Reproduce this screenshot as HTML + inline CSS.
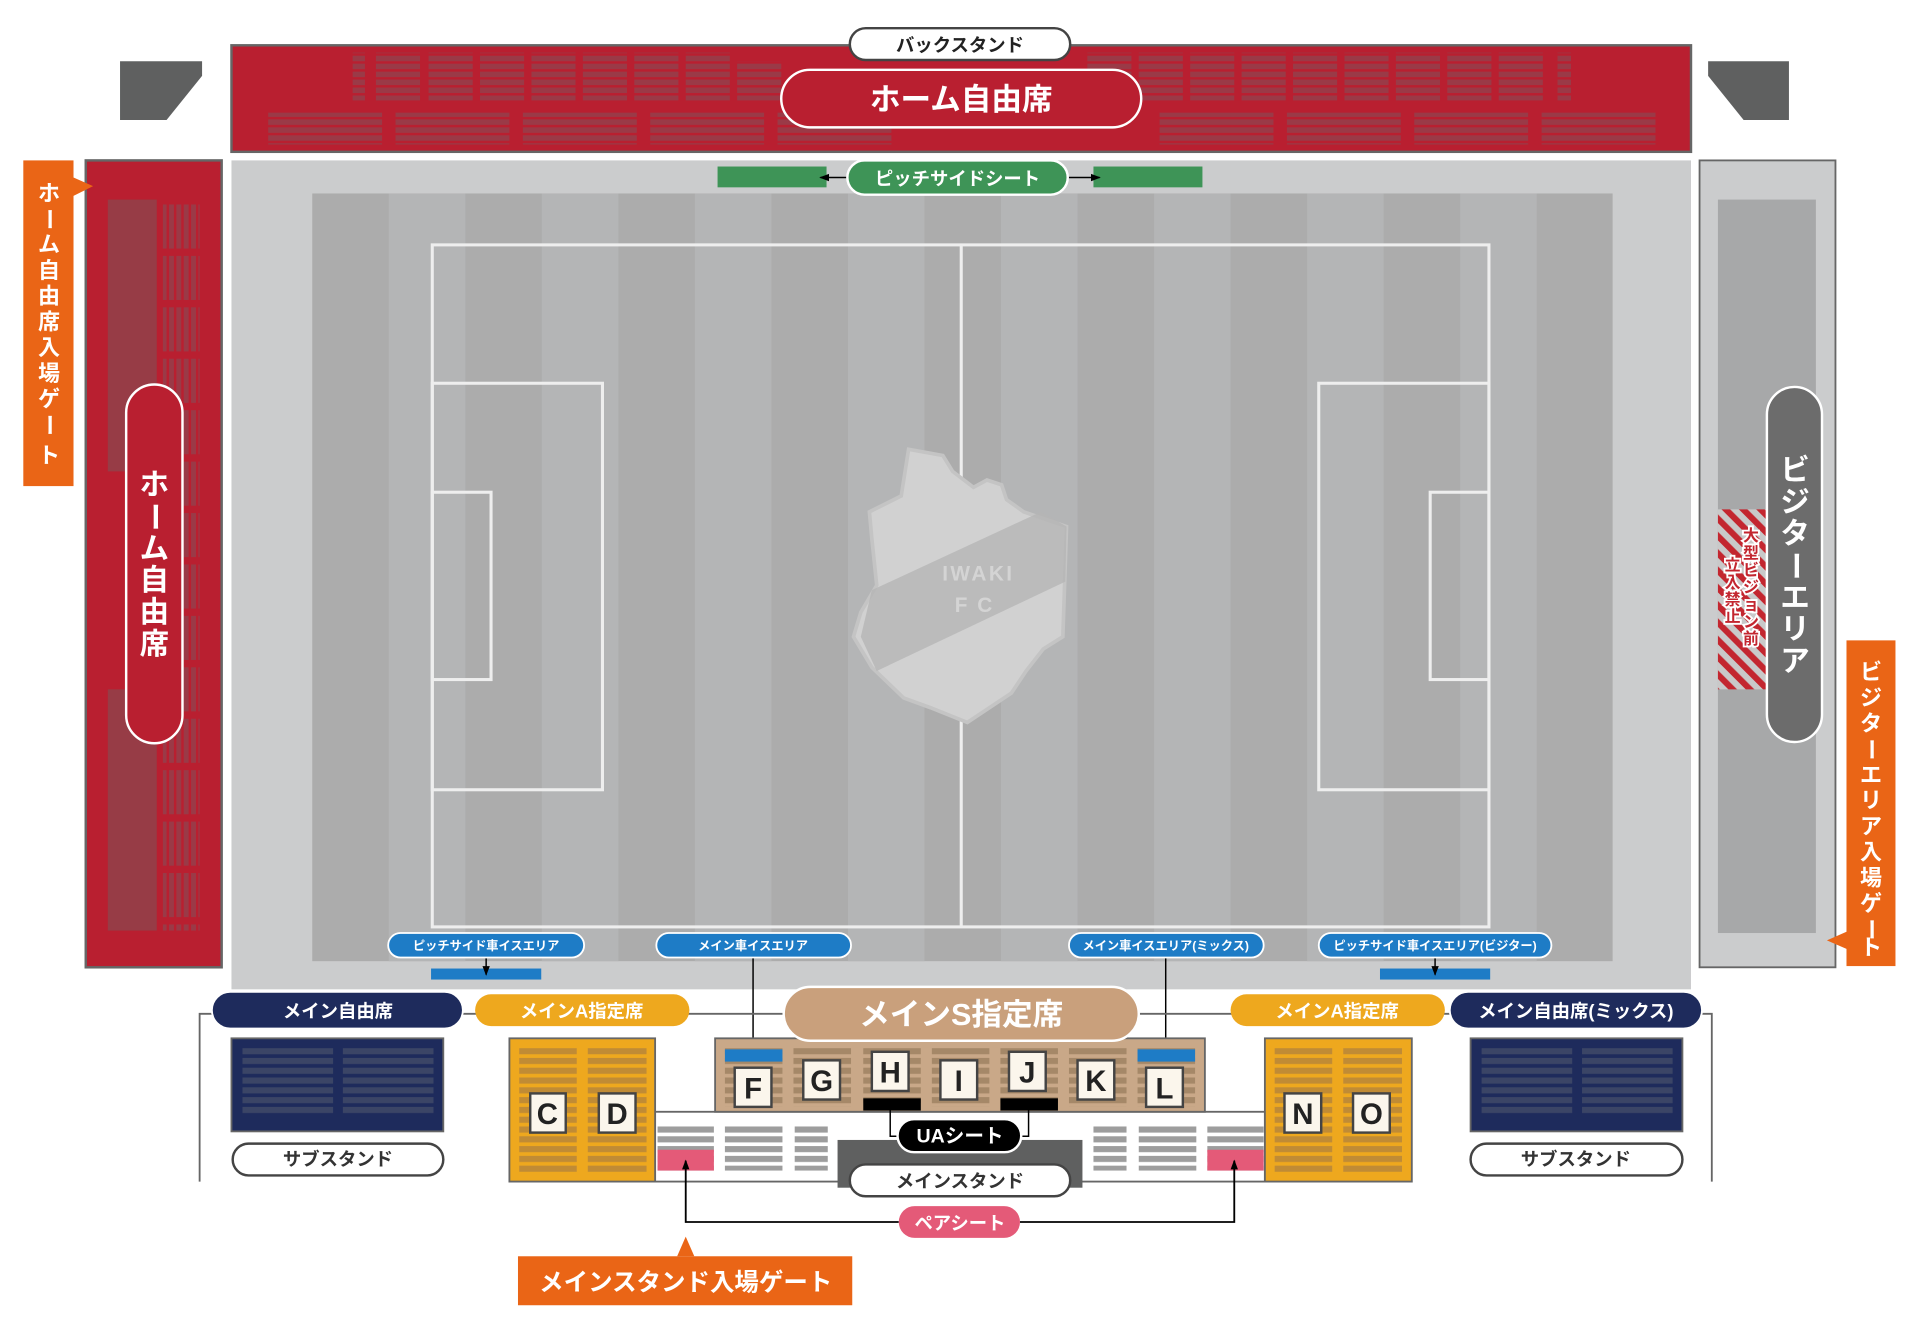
<!DOCTYPE html>
<html><head><meta charset="utf-8"><style>
html,body{margin:0;padding:0;background:#fff;}
svg{display:block;}
text{font-family:"Liberation Sans","Noto Sans CJK JP",sans-serif;font-weight:bold;}
</style></head><body>
<svg width="1920" height="1335" viewBox="0 0 1568 1090.3" xmlns="http://www.w3.org/2000/svg">
<defs>
<pattern id="hr" width="10" height="6.5" patternUnits="userSpaceOnUse"><rect width="10" height="4.5" fill="#9a3a47"/></pattern>
<pattern id="vr" width="6" height="10" patternUnits="userSpaceOnUse"><rect width="4" height="10" fill="#9a3a47"/></pattern>
<pattern id="nv" width="10" height="8" patternUnits="userSpaceOnUse"><rect width="10" height="5" fill="#3b4566"/></pattern>
<pattern id="yl" width="10" height="8" patternUnits="userSpaceOnUse"><rect width="10" height="5" fill="#c08b35"/></pattern>
<pattern id="tn" width="10" height="8" patternUnits="userSpaceOnUse"><rect width="10" height="5" fill="#a58868"/></pattern>
<pattern id="gr" width="10" height="8" patternUnits="userSpaceOnUse"><rect width="10" height="5" fill="#9d9d9d"/></pattern>
<pattern id="hatch" width="10" height="10" patternUnits="userSpaceOnUse" patternTransform="rotate(-45)"><rect width="10" height="10" fill="#c9c9c9"/><rect width="5" height="10" fill="#c3262f"/></pattern>
<marker id="ar" markerWidth="8" markerHeight="8" refX="7" refY="4" orient="auto" markerUnits="userSpaceOnUse"><path d="M0,1 L8,4 L0,7z" fill="#000"/></marker>
</defs>

<path d="M98,50 H165 V62 L136,98 H98z" fill="#5f6060"/>
<path d="M1461,50 H1395 V62 L1424,98 H1461z" fill="#5f6060"/>

<rect x="189" y="37" width="1192" height="87" fill="#b91f30" stroke="#666" stroke-width="2"/>
<rect x="288" y="43" width="10" height="39" fill="url(#hr)"/>
<g fill="url(#hr)">
<rect x="307" y="43" width="36" height="39"/><rect x="350" y="43" width="36" height="39"/><rect x="392" y="43" width="36" height="39"/><rect x="434" y="43" width="36" height="39"/><rect x="476" y="43" width="36" height="39"/><rect x="518" y="43" width="36" height="39"/><rect x="560" y="43" width="36" height="39"/><rect x="602" y="50" width="36" height="32"/>
<rect x="888" y="43" width="36" height="39"/><rect x="930" y="43" width="36" height="39"/><rect x="972" y="43" width="36" height="39"/><rect x="1014" y="43" width="36" height="39"/><rect x="1056" y="43" width="36" height="39"/><rect x="1098" y="43" width="36" height="39"/><rect x="1140" y="43" width="36" height="39"/><rect x="1182" y="43" width="36" height="39"/><rect x="1224" y="43" width="36" height="39"/><rect x="1272" y="43" width="11" height="39"/>
<rect x="219" y="92" width="93" height="26"/><rect x="323" y="92" width="93" height="26"/><rect x="427" y="92" width="93" height="26"/><rect x="531" y="92" width="93" height="26"/><rect x="635" y="92" width="93" height="26"/>
<rect x="947" y="92" width="93" height="26"/><rect x="1051" y="92" width="93" height="26"/><rect x="1155" y="92" width="93" height="26"/><rect x="1259" y="92" width="93" height="26"/>
</g>
<rect x="694" y="23" width="180" height="26" rx="13" fill="#fff" stroke="#444" stroke-width="2"/>
<text x="784" y="42" font-size="15" text-anchor="middle" fill="#222">バックスタンド</text>
<rect x="638" y="57" width="294" height="47" rx="23.5" fill="#b91f30" stroke="#fff" stroke-width="2"/>
<text x="785" y="90" font-size="25" text-anchor="middle" fill="#fff">ホーム自由席</text>

<rect x="189" y="131" width="1192" height="677" fill="#cbcccd"/>
<rect x="255" y="158" width="1062" height="627" fill="#acacac"/>
<g fill="#b4b5b6">
<rect x="317.5" y="158" width="62.5" height="627"/><rect x="442.5" y="158" width="62.5" height="627"/><rect x="567.5" y="158" width="62.5" height="627"/><rect x="692.5" y="158" width="62.5" height="627"/><rect x="817.5" y="158" width="62.5" height="627"/><rect x="942.5" y="158" width="62.5" height="627"/><rect x="1067.5" y="158" width="62.5" height="627"/><rect x="1192.5" y="158" width="62.5" height="627"/>
</g>
<g fill="none" stroke="#eee" stroke-width="2.5">
<rect x="353" y="200" width="863" height="557"/>
<line x1="785" y1="200" x2="785" y2="757"/>
<rect x="353" y="313" width="139" height="332"/>
<rect x="353" y="402" width="48" height="153"/>
<rect x="1077" y="313" width="139" height="332"/>
<rect x="1168" y="402" width="48" height="153"/>
</g>
<path d="M742,367 L770,372 L778,385 L795,398 L806,392 L818,396 L822,408 L836,418 L871,430 L868,520 L852,530 L838,548 L826,566 L790,590 L760,578 L738,570 L712,545 L697,520 L703,500 L716,478 L712,440 L710,418 L736,405z" fill="#d1d1d1" stroke="#c4c4c4" stroke-width="3"/>
<path d="M712,482 L850,418 L871,430 L870,475 L716,548 L703,520z" fill="#b5b5b5" opacity="0.8"/>
<text x="799" y="474" font-size="17" text-anchor="middle" fill="#d4d4d4" font-family="Liberation Serif,serif" letter-spacing="2">IWAKI</text>
<text x="799" y="500" font-size="17" text-anchor="middle" fill="#d4d4d4" font-family="Liberation Serif,serif" letter-spacing="8">FC</text>

<rect x="586" y="136" width="89" height="17" fill="#3e9457"/>
<rect x="893" y="136" width="89" height="17" fill="#3e9457"/>
<line x1="692" y1="145" x2="670" y2="145" stroke="#000" stroke-width="1.2" marker-end="url(#ar)"/>
<line x1="872" y1="145" x2="898" y2="145" stroke="#000" stroke-width="1.2" marker-end="url(#ar)"/>
<rect x="692" y="131" width="180" height="28" rx="14" fill="#3e9457" stroke="#fff" stroke-width="2"/>
<text x="782" y="151" font-size="15" text-anchor="middle" fill="#fff">ピッチサイドシート</text>

<rect x="70" y="131" width="111" height="659" fill="#b91f30" stroke="#666" stroke-width="2"/>
<rect x="88" y="163" width="40" height="222" fill="#973c46"/>
<rect x="88" y="563" width="40" height="197" fill="#973c46"/>
<g fill="url(#vr)">
<rect x="133" y="167" width="30" height="36"/><rect x="133" y="209" width="30" height="36"/><rect x="133" y="251" width="30" height="36"/><rect x="133" y="293" width="30" height="36"/><rect x="133" y="335" width="30" height="36"/><rect x="133" y="377" width="30" height="36"/><rect x="133" y="419" width="30" height="36"/><rect x="133" y="461" width="30" height="36"/><rect x="133" y="503" width="30" height="36"/><rect x="133" y="545" width="30" height="36"/><rect x="133" y="587" width="30" height="36"/><rect x="133" y="629" width="30" height="36"/><rect x="133" y="671" width="30" height="36"/><rect x="133" y="713" width="30" height="36"/><rect x="133" y="755" width="30" height="5"/>
</g>
<rect x="103" y="314" width="46" height="293" rx="23" fill="#b91f30" stroke="#fff" stroke-width="2"/>
<g font-size="24" fill="#fff" text-anchor="middle">
<text x="126" y="404">ホ</text><text x="126" y="430" transform="rotate(90 126 422)">ー</text><text x="126" y="456">ム</text><text x="126" y="482">自</text><text x="126" y="508">由</text><text x="126" y="534">席</text>
</g>
<rect x="19" y="131" width="41" height="266" fill="#ea6516"/>
<path d="M60,145 L76,152 L60,160z" fill="#ea6516"/>
<g font-size="18" fill="#fff" text-anchor="middle">
<text x="40" y="164">ホ</text><text x="40" y="185" transform="rotate(90 40 179)">ー</text><text x="40" y="206">ム</text><text x="40" y="227">自</text><text x="40" y="248">由</text><text x="40" y="269">席</text><text x="40" y="290">入</text><text x="40" y="311">場</text><text x="40" y="332">ゲ</text><text x="40" y="353" transform="rotate(90 40 347)">ー</text><text x="40" y="378">ト</text>
</g>

<rect x="1388" y="131" width="111" height="659" fill="#cbcccd" stroke="#666" stroke-width="1.5"/>
<rect x="1403" y="163" width="80" height="599" fill="#a7a8a9"/>
<rect x="1403" y="416" width="40" height="147" fill="url(#hatch)"/>
<g font-size="13" fill="#c3262f" text-anchor="middle" stroke="#fff" stroke-width="3" paint-order="stroke">
<text x="1430" y="442">大</text><text x="1430" y="456">型</text><text x="1430" y="470">ビ</text><text x="1430" y="484">ジ</text><text x="1430" y="498">ョ</text><text x="1430" y="512">ン</text><text x="1430" y="526">前</text>
<text x="1415" y="466">立</text><text x="1415" y="480">入</text><text x="1415" y="494">禁</text><text x="1415" y="508">止</text>
</g>
<rect x="1443" y="316" width="45" height="290" rx="22.5" fill="#6c6c6c" stroke="#fff" stroke-width="2"/>
<g font-size="24" fill="#fff" text-anchor="middle">
<text x="1466" y="392">ビ</text><text x="1466" y="418">ジ</text><text x="1466" y="444">タ</text><text x="1466" y="470" transform="rotate(90 1466 462)">ー</text><text x="1466" y="496">エ</text><text x="1466" y="522">リ</text><text x="1466" y="548">ア</text>
</g>
<rect x="1508" y="523" width="40" height="266" fill="#ea6516"/>
<path d="M1508,761 L1492,768 L1508,775z" fill="#ea6516"/>
<g font-size="18" fill="#fff" text-anchor="middle">
<text x="1528" y="555">ビ</text><text x="1528" y="576">ジ</text><text x="1528" y="597">タ</text><text x="1528" y="618" transform="rotate(90 1528 612)">ー</text><text x="1528" y="639">エ</text><text x="1528" y="660">リ</text><text x="1528" y="681">ア</text><text x="1528" y="702">入</text><text x="1528" y="723">場</text><text x="1528" y="744">ゲ</text><text x="1528" y="765" transform="rotate(90 1528 759)">ー</text><text x="1528" y="780">ト</text>
</g>

<rect x="352" y="791" width="90" height="9" fill="#1e7cc6"/>
<rect x="1127" y="791" width="90" height="9" fill="#1e7cc6"/>
<line x1="397" y1="781" x2="397" y2="796" stroke="#000" stroke-width="1.2" marker-end="url(#ar)"/>
<line x1="1172" y1="781" x2="1172" y2="796" stroke="#000" stroke-width="1.2" marker-end="url(#ar)"/>
<line x1="615" y1="781" x2="615" y2="862" stroke="#000" stroke-width="1.2" marker-end="url(#ar)"/>
<line x1="952" y1="781" x2="952" y2="862" stroke="#000" stroke-width="1.2" marker-end="url(#ar)"/>
<g stroke="#fff" stroke-width="1.5" fill="#1e7cc6">
<rect x="317" y="762" width="160" height="20" rx="10"/><rect x="536" y="762" width="159" height="20" rx="10"/><rect x="873" y="762" width="159" height="20" rx="10"/><rect x="1077" y="762" width="190" height="20" rx="10"/>
</g>
<g font-size="10" fill="#fff" text-anchor="middle">
<text x="397" y="776">ピッチサイド車イスエリア</text><text x="615" y="776">メイン車イスエリア</text><text x="952" y="776">メイン車イスエリア(ミックス)</text><text x="1172" y="776">ピッチサイド車イスエリア(ビジター)</text>
</g>

<path d="M163,965 V828 H1398 V965" fill="none" stroke="#666" stroke-width="1.5"/>

<rect x="189" y="848" width="173" height="76" fill="#1e2b5c" stroke="#666" stroke-width="1.5"/>
<rect x="198" y="856" width="74" height="55" fill="url(#nv)"/><rect x="280" y="856" width="74" height="55" fill="url(#nv)"/>
<rect x="1201" y="848" width="173" height="76" fill="#1e2b5c" stroke="#666" stroke-width="1.5"/>
<rect x="1210" y="856" width="74" height="55" fill="url(#nv)"/><rect x="1292" y="856" width="74" height="55" fill="url(#nv)"/>
<rect x="190" y="934" width="172" height="26" rx="13" fill="#fff" stroke="#444" stroke-width="2"/>
<text x="276" y="952" font-size="15" text-anchor="middle" fill="#333">サブスタンド</text>
<rect x="1201" y="934" width="173" height="26" rx="13" fill="#fff" stroke="#444" stroke-width="2"/>
<text x="1287" y="952" font-size="15" text-anchor="middle" fill="#333">サブスタンド</text>

<rect x="535" y="908" width="498" height="57" fill="#fff" stroke="#666" stroke-width="1.5"/>
<rect x="537" y="918" width="46" height="38" fill="url(#gr)"/>
<rect x="592" y="918" width="47" height="38" fill="url(#gr)"/>
<rect x="649" y="918" width="27" height="38" fill="url(#gr)"/>
<rect x="893" y="918" width="27" height="38" fill="url(#gr)"/>
<rect x="930" y="918" width="47" height="38" fill="url(#gr)"/>
<rect x="986" y="918" width="46" height="38" fill="url(#gr)"/>
<rect x="537" y="939" width="46" height="17" fill="#e45a78"/>
<rect x="986" y="939" width="46" height="17" fill="#e45a78"/>
<rect x="684" y="931" width="200" height="39" fill="#5f6060"/>

<rect x="416" y="848" width="119" height="117" fill="#eea81e" stroke="#666" stroke-width="1.5"/>
<rect x="424" y="856" width="47" height="102" fill="url(#yl)"/><rect x="480" y="856" width="48" height="102" fill="url(#yl)"/>
<rect x="1033" y="848" width="120" height="117" fill="#eea81e" stroke="#666" stroke-width="1.5"/>
<rect x="1041" y="856" width="47" height="102" fill="url(#yl)"/><rect x="1097" y="856" width="48" height="102" fill="url(#yl)"/>

<rect x="584" y="848" width="400" height="60" fill="#c9a888" stroke="#666" stroke-width="1.5"/>
<g fill="url(#tn)">
<rect x="592" y="856" width="47" height="48"/><rect x="648" y="856" width="47" height="48"/><rect x="705" y="856" width="47" height="48"/><rect x="761" y="856" width="47" height="48"/><rect x="817" y="856" width="47" height="48"/><rect x="873" y="856" width="47" height="48"/><rect x="929" y="856" width="47" height="48"/>
</g>
<rect x="592" y="857" width="47" height="10" fill="#1e7cc6"/>
<rect x="929" y="857" width="47" height="10" fill="#1e7cc6"/>
<rect x="705" y="897" width="47" height="10" fill="#000"/>
<rect x="817" y="897" width="47" height="10" fill="#000"/>
<g fill="#fbf6ec" stroke="#444" stroke-width="2">
<rect x="433" y="893" width="29" height="32"/><rect x="489" y="893" width="30" height="32"/>
<rect x="1049" y="893" width="30" height="32"/><rect x="1105" y="893" width="30" height="32"/>
<rect x="600" y="872" width="30" height="32"/><rect x="656" y="866" width="30" height="32"/><rect x="712" y="859" width="30" height="32"/><rect x="768" y="866" width="30" height="32"/><rect x="824" y="859" width="30" height="32"/><rect x="880" y="866" width="30" height="32"/><rect x="936" y="872" width="30" height="32"/>
</g>
<g font-size="24" fill="#222" text-anchor="middle">
<text x="447" y="918">C</text><text x="504" y="918">D</text><text x="1064" y="918">N</text><text x="1120" y="918">O</text>
<text x="615" y="897">F</text><text x="671" y="891">G</text><text x="727" y="884">H</text><text x="783" y="891">I</text><text x="839" y="884">J</text><text x="895" y="891">K</text><text x="951" y="897">L</text>
</g>

<path d="M733,928 H727 V900" fill="none" stroke="#000" stroke-width="1.2" marker-end="url(#ar)"/>
<path d="M834,928 H840 V900" fill="none" stroke="#000" stroke-width="1.2" marker-end="url(#ar)"/>
<path d="M734,998 H560 V948" fill="none" stroke="#000" stroke-width="1.5" marker-end="url(#ar)"/>
<path d="M833,998 H1008 V948" fill="none" stroke="#000" stroke-width="1.5" marker-end="url(#ar)"/>

<rect x="733" y="914" width="101" height="27" rx="13.5" fill="#000" stroke="#fff" stroke-width="2"/>
<text x="784" y="933" font-size="16" text-anchor="middle" fill="#fff">UAシート</text>
<rect x="694" y="951" width="180" height="26" rx="13" fill="#fff" stroke="#444" stroke-width="2"/>
<text x="784" y="970" font-size="15" text-anchor="middle" fill="#333">メインスタンド</text>
<rect x="734" y="985" width="99" height="26" rx="13" fill="#e45a78"/>
<text x="784" y="1004" font-size="15" text-anchor="middle" fill="#fff">ペアシート</text>

<rect x="173" y="810" width="205" height="30" rx="15" fill="#1e2b5c" stroke="#fff" stroke-width="1.5"/>
<text x="276" y="831" font-size="15" text-anchor="middle" fill="#fff">メイン自由席</text>
<rect x="388" y="812" width="175" height="26" rx="13" fill="#eea81e"/>
<text x="475" y="831" font-size="15" text-anchor="middle" fill="#fff">メインA指定席</text>
<rect x="1005" y="812" width="175" height="26" rx="13" fill="#eea81e"/>
<text x="1092" y="831" font-size="15" text-anchor="middle" fill="#fff">メインA指定席</text>
<rect x="1184" y="810" width="206" height="30" rx="15" fill="#1e2b5c" stroke="#fff" stroke-width="1.5"/>
<text x="1287" y="831" font-size="15" text-anchor="middle" fill="#fff">メイン自由席(ミックス)</text>
<rect x="640" y="806" width="290" height="44" rx="22" fill="#c9a07c" stroke="#fff" stroke-width="2"/>
<text x="785" y="837" font-size="25" text-anchor="middle" fill="#fff">メインS指定席</text>

<path d="M553,1026 L560,1010 L567,1026z" fill="#ea6516"/>
<rect x="423" y="1026" width="273" height="40" fill="#ea6516"/>
<text x="560" y="1054" font-size="20" text-anchor="middle" fill="#fff">メインスタンド入場ゲート</text>
</svg>
</body></html>
